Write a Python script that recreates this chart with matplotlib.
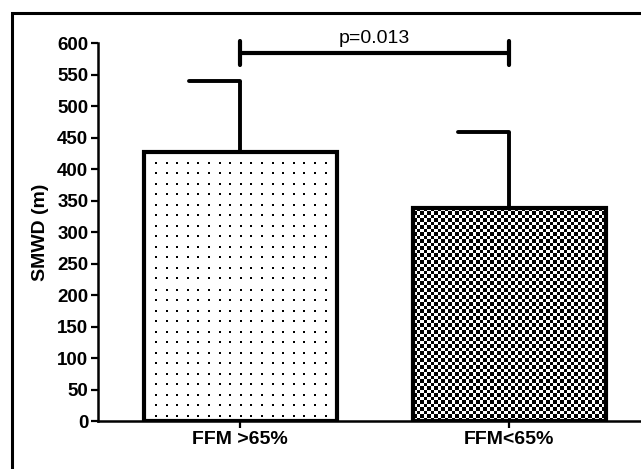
import matplotlib as mpl
mpl.use('Agg')
import matplotlib.pyplot as plt
from matplotlib.patches import Rectangle
import numpy as np

# data
groups = ['FFM >65%', 'FFM<65%']
means = [427, 338]
upper_err = [113, 120]
p_text = 'p=0.013'
bracket_y = 584
yticks = list(range(0, 601, 50))

mpl.rcParams['font.family'] = ['Liberation Sans', 'DejaVu Sans']

fig = plt.figure(figsize=(6.41, 4.69), dpi=100)
ax = fig.add_axes([0.1529, 0.1023, 0.8471, 0.806])

x = np.arange(len(groups))
bar_w = 0.717
bars = ax.bar(x, means, bar_w, color='none', edgecolor='black', linewidth=3.0, zorder=3)

ax.set_xlim(-0.528, 1.49)
ax.set_ylim(0, 600)


def pattern_fill(bar, kind):
    # fill a bar with a pixel pattern, clipped to the bar
    p0 = ax.transData.transform((bar.get_x(), 0))
    p1 = ax.transData.transform((bar.get_x() + bar.get_width(), bar.get_height()))
    if kind == 'checker':
        nx = int(round(abs(p1[0] - p0[0]) / 3.5))
        ny = int(round(abs(p1[1] - p0[1]) / 3.5))
        img = 1 - np.indices((ny, nx)).sum(axis=0) % 2
    else:
        nx = int(round(abs(p1[0] - p0[0])))
        ny = int(round(abs(p1[1] - p0[1])))
        jj, ii = np.meshgrid(np.arange(nx), np.arange(ny))
        dots = ((jj % 10.6) < 2) & ((ii % 10.5) < 2)
        img = np.where(dots, 0, 1)
    im = ax.imshow(img, cmap='gray', vmin=0, vmax=1,
                   extent=(bar.get_x(), bar.get_x() + bar.get_width(), 0, bar.get_height()),
                   aspect='auto', interpolation='nearest', zorder=2)
    im.set_clip_path(bar)


pattern_fill(bars[0], 'dots')
pattern_fill(bars[1], 'checker')

# error bars (upper only, half cap)
cap = 0.19
for xi, m, e in zip(x, means, upper_err):
    ax.plot([xi, xi], [m, m + e], color='black', lw=2.8, zorder=4, solid_capstyle='butt')
    ax.plot([xi - cap, xi], [m + e, m + e], color='black', lw=2.8, zorder=4, solid_capstyle='round')

# significance bracket
ax.plot([x[0], x[1]], [bracket_y, bracket_y], color='black', lw=3, clip_on=False, solid_capstyle='butt')
for xi in x:
    ax.plot([xi, xi], [bracket_y - 19, bracket_y + 19], color='black', lw=3, clip_on=False,
            solid_capstyle='round')
ax.text((x[0] + x[1]) / 2, bracket_y + 16, p_text, ha='center', va='baseline', fontsize=14)

ax.set_xticks(x)
ax.set_xticklabels(groups, fontsize=14, fontweight='bold')
ax.set_yticks(yticks)
ax.set_yticklabels([str(t) for t in yticks], fontsize=13.5, fontweight='bold')
ax.set_ylabel('SMWD (m)', fontsize=14, fontweight='bold', labelpad=6)

for s in ['top', 'right']:
    ax.spines[s].set_visible(False)
ax.spines['left'].set_linewidth(1.8)
ax.spines['bottom'].set_linewidth(1.8)
ax.tick_params(axis='both', direction='out', length=5, width=1.6, pad=2)

# outer frame
fig.add_artist(Rectangle((12 / 641, -0.1), 1.1, 1 - 13 / 469 + 0.1, transform=fig.transFigure,
                         fill=False, lw=2.2, edgecolor='black'))

plt.savefig('out.png', dpi=100)
